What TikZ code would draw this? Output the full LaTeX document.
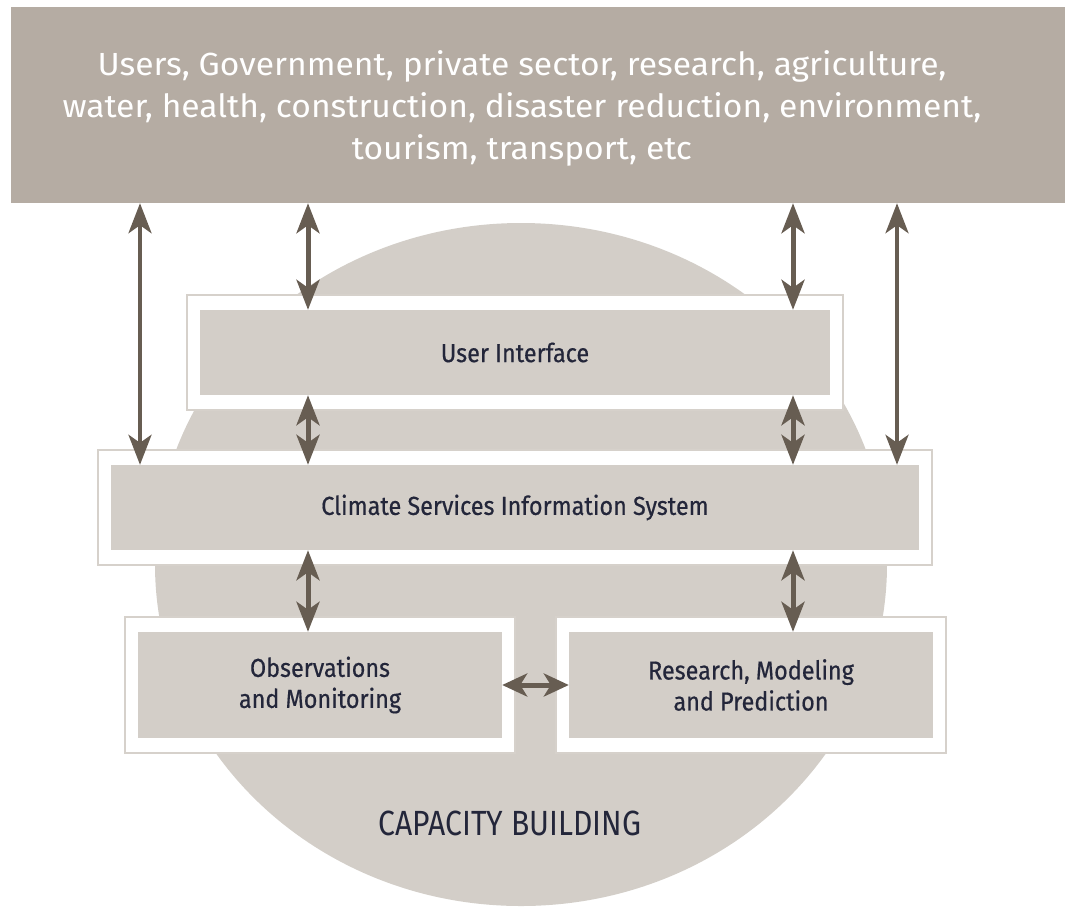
\documentclass[tikz,border=0pt]{standalone}
\usepackage{fontspec}
\setmainfont{Fira Sans}
\newfontfamily\boxfont[FakeStretch=0.9,FakeBold=0.5]{Fira Sans}
\newfontfamily\capfont[FakeStretch=0.86]{Fira Sans}
\newfontfamily\bandfont[FakeStretch=1.05]{Fira Sans}
\usetikzlibrary{positioning}
\usetikzlibrary{fit}
\usetikzlibrary{backgrounds}
\usetikzlibrary{arrows.meta}
\definecolor{band}{HTML}{B5ACA3}
\definecolor{disc}{HTML}{D3CEC8}
\definecolor{rim}{HTML}{D6D1CB}
\definecolor{arr}{HTML}{675D52}
\definecolor{ink}{HTML}{23263A}
\tikzset{blk/.style={fill=disc, inner sep=0pt, text=ink, align=center, font=\boxfont\fontsize{26}{31}\selectfont}}
\tikzset{frame/.style={draw=rim, line width=2pt, fill=white, inner xsep=13pt, inner ysep=15pt}}
\tikzset{link/.style={draw=arr, line width=5pt, {Stealth[length=30pt,width=23pt,inset=8pt]}-{Stealth[length=30pt,width=23pt,inset=8pt]}}}

\begin{document}
\begin{tikzpicture}[x=1pt,y=-1pt]
\useasboundingbox (0,0) rectangle (1065,906);

\node[fill=band, inner sep=0pt, minimum width=1054pt, minimum height=196pt] (users) at (538,105) {};
\node[text=white, align=center, font=\bandfont\fontsize{32}{42}\selectfont] (userstext) at (522,108)
  {Users, Government, private sector, research, agriculture,\\
   water, health, construction, disaster reduction, environment,\\
   tourism, transport, etc};

\node[blk, minimum width=630pt, minimum height=85pt] (ui) at (515,352.5) {User Interface};
\node[blk, minimum width=808pt, minimum height=85pt] (csis) at (515,507.5) {Climate Services Information System};
\node[blk, minimum width=364pt, minimum height=106pt] (obs) at (320,685) {Observations\\and Monitoring};
\node[blk, minimum width=364pt, minimum height=106pt] (res) at (751,685) {Research, Modeling\\and Prediction};

\begin{scope}[on background layer]
\fill[disc] (521,564.5) ellipse [x radius=366pt, y radius=341.5pt];
\node[frame, fit=(ui)] (uiframe) {};
\node[frame, fit=(csis)] (csisframe) {};
\node[frame, fit=(obs)] (obsframe) {};
\node[frame, fit=(res)] (resframe) {};
\end{scope}

\node[text=ink, font=\capfont\fontsize{35}{40}\selectfont] (cb) at (510,823) {CAPACITY BUILDING};

\coordinate (colA) at (140,0);
\coordinate (colB) at (308,0);
\coordinate (colC) at (793,0);
\coordinate (colD) at (897,0);

\draw[link, line width=4pt] (users.south -| colA) -- (csis.north -| colA);
\draw[link, line width=4pt] (users.south -| colD) -- (csis.north -| colD);
\draw[link] (users.south -| colB) -- (ui.north -| colB);
\draw[link] (users.south -| colC) -- (ui.north -| colC);
\draw[link] (ui.south -| colB) -- (csis.north -| colB);
\draw[link] (ui.south -| colC) -- (csis.north -| colC);
\draw[link] (csis.south -| colB) -- (obs.north -| colB);
\draw[link] (csis.south -| colC) -- (res.north -| colC);
\draw[link, {Stealth[length=25pt,width=23pt,inset=7pt]}-{Stealth[length=25pt,width=23pt,inset=7pt]}] (obs.east) -- (res.west);

\end{tikzpicture}
\end{document}
